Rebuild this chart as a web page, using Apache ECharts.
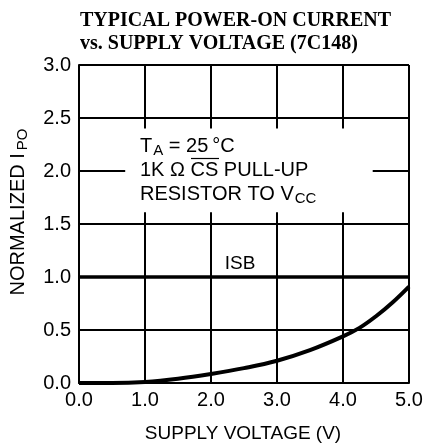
<!DOCTYPE html>
<html>
<head>
<meta charset="utf-8">
<script src="https://cdn.jsdelivr.net/npm/echarts@6/dist/echarts.min.js"></script>
<style>
html,body{margin:0;padding:0;background:#fff;}
#chart{width:426px;height:445px;}
</style>
</head>
<body>
<div id="chart"></div>
<script>
// ---- data ----
const voltage = [0.0, 0.5, 1.0, 1.5, 2.0, 2.5, 3.0, 3.5, 4.0, 4.25, 4.5, 4.75, 5.0];
const ipo     = [0.0, 0.0, 0.01, 0.04, 0.085, 0.14, 0.21, 0.31, 0.44, 0.52, 0.63, 0.76, 0.91];
const isbVoltage = [0.0, 5.0];
const isbLevel   = [1.0, 1.0];
const xTicks = ['0.0', '1.0', '2.0', '3.0', '4.0', '5.0'];
const yTicks = ['0.0', '0.5', '1.0', '1.5', '2.0', '2.5', '3.0'];
const boxX = [0.70, 4.45];
const boxY = [1.61, 2.40];

const SANS = '"Liberation Sans", Arial, Helvetica, sans-serif';
const SERIF = '"Liberation Serif", "Times New Roman", serif';

const chart = echarts.init(document.getElementById('chart'), null, {renderer: 'canvas'});

const option = {
  animation: false,
  backgroundColor: '#fff',
  grid: {left: 79, right: 17, top: 65, bottom: 62, containLabel: false},
  xAxis: {
    type: 'value', min: 0, max: 5, interval: 1,
    axisLine: {show: true, lineStyle: {color: '#000', width: 2}},
    axisTick: {show: false},
    splitLine: {show: true, lineStyle: {color: '#000', width: 2}},
    axisLabel: {
      color: '#000', fontFamily: SANS, fontSize: 20, margin: 7,
      formatter: v => xTicks[Math.round(v)]
    }
  },
  yAxis: {
    type: 'value', min: 0, max: 3, interval: 0.5,
    axisLine: {show: true, lineStyle: {color: '#000', width: 2}},
    axisTick: {show: false},
    splitLine: {show: true, lineStyle: {color: '#000', width: 2}},
    axisLabel: {
      color: '#000', fontFamily: SANS, fontSize: 20, margin: 8,
      formatter: v => yTicks[Math.round(v * 2)]
    }
  },
  series: [
    {
      type: 'line', name: 'box', data: [], silent: true, z: 3,
      markArea: {
        silent: true,
        itemStyle: {color: '#fff', opacity: 1},
        data: [[{xAxis: boxX[0], yAxis: boxY[0]}, {xAxis: boxX[1], yAxis: boxY[1]}]]
      }
    },
    {
      type: 'line', name: 'ISB', data: isbVoltage.map((v, i) => [v, isbLevel[i]]),
      showSymbol: false, lineStyle: {color: '#000', width: 3.5}, z: 4
    },
    {
      type: 'line', name: 'IPO', data: voltage.map((v, i) => [v, ipo[i]]),
      smooth: 0.4, showSymbol: false, lineStyle: {color: '#000', width: 4}, z: 5
    }
  ],
  graphic: [
    {
      type: 'text', left: 80, top: 9,
      style: {
        text: 'TYPICAL POWER-ON CURRENT\nvs. SUPPLY VOLTAGE (7C148)',
        font: 'bold 20px ' + SERIF, fill: '#000', lineHeight: 23
      }
    },
    {
      type: 'text', x: 243, y: 434,
      style: {
        text: 'SUPPLY VOLTAGE (V)', font: '19px ' + SANS, fill: '#000',
        align: 'center', verticalAlign: 'middle'
      }
    },
    {
      type: 'text', x: 18, y: 212, rotation: Math.PI / 2,
      style: {
        text: '{n|NORMALIZED I}{s|PO}', align: 'center', verticalAlign: 'middle',
        rich: {
          n: {fontFamily: SANS, fontSize: 20, fill: '#000', color: '#000', lineHeight: 22},
          s: {fontFamily: SANS, fontSize: 15, fill: '#000', color: '#000', padding: [10, 0, 0, 3], lineHeight: 22}
        }
      }
    },
    {
      type: 'text', x: 140, y: 134, z: 10,
      style: {
        text: '{n|T}{s|A}{n| = 25\u2009°C}\n{n|1K Ω CS PULL-UP}\n{n|RESISTOR TO V}{s|CC}',
        rich: {
          n: {fontFamily: SANS, fontSize: 20, fill: '#000', color: '#000', lineHeight: 24},
          s: {fontFamily: SANS, fontSize: 15, fill: '#000', color: '#000', padding: [10, 0, 0, 1], lineHeight: 24}
        }
      }
    },
    {
      type: 'line', z: 10,
      shape: {x1: 191, y1: 158.5, x2: 219, y2: 158.5},
      style: {stroke: '#000', lineWidth: 1.2}
    },
    {
      type: 'text', x: 240, y: 264, z: 10,
      style: {
        text: 'ISB', font: '19px ' + SANS, fill: '#000',
        align: 'center', verticalAlign: 'middle'
      }
    }
  ]
};
chart.setOption(option);
</script>
</body>
</html>
